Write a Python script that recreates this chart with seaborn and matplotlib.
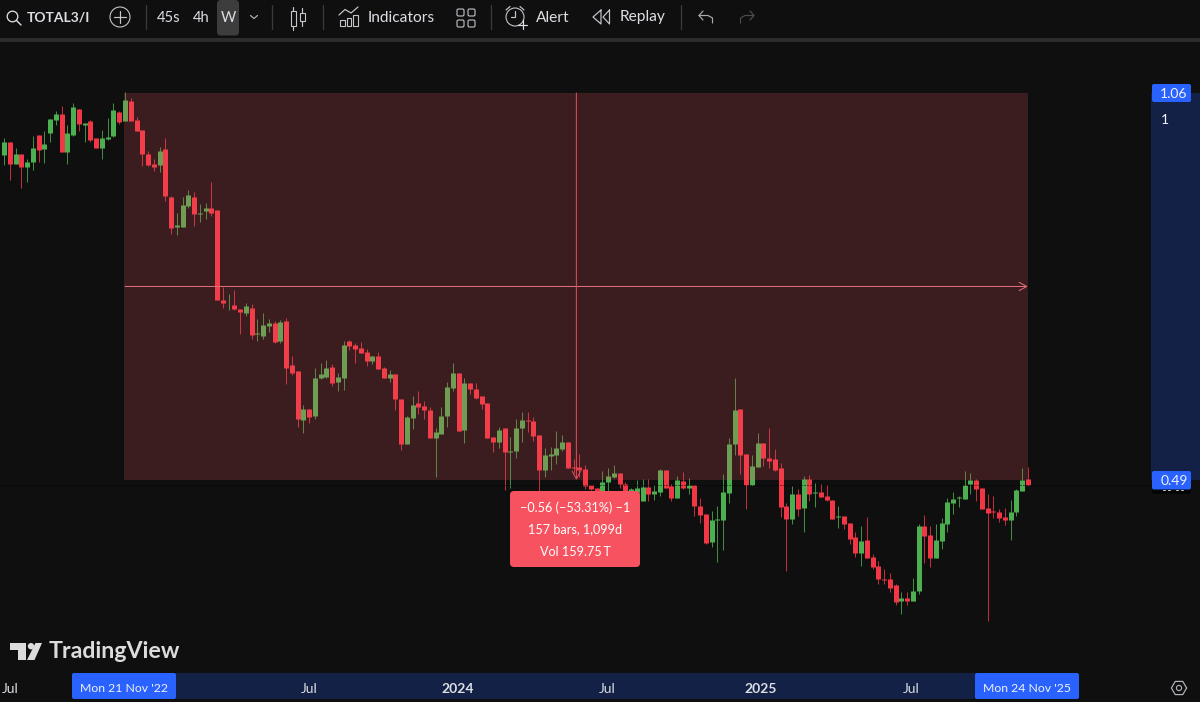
import numpy as np
import pandas as pd
import matplotlib
matplotlib.use("Agg")
import matplotlib.pyplot as plt
from matplotlib.patches import Rectangle, FancyBboxPatch, Circle, Polygon
import seaborn as sns

first_bar = -22
opens = [.900,.936,.962,.920,.939,.915,.923,.974,.948,.979,1.005,1.017,.942,.974,1.027,.995,1.002,.969,.949,.967,.972,1.021,
 1.003,1.043,1.005,.984,.938,.920,.918,.948,.862,.812,.812,.846,.862,.832,.837,.843,.840,.701,.697,.695,.689,.684,.690,.655,.653,.666,.670,.646,
 .673,.616,.609,.552,.564,.557,.600,.602,.614,.596,.600,.646,.641,.637,.632,.621,.627,.613,.600,.605,.576,.526,.554,.571,.568,.563,.533,.537,.557,.589,
 .606,.541,.594,.588,.579,.571,.534,.529,.543,.518,.519,.543,.552,.551,.536,.500,.514,.515,.521,.528,.503,.503,.501,.485,.482,.477,.488,.493,.497,.486,
 .475,.478,.470,.483,.476,.478,.500,.484,.473,.489,.482,.485,.465,.458,.433,.452,.452,.477,.526,.564,.516,.485,.503,.527,.512,.511,.502,.465,.453,.476,
 .463,.491,.477,.478,.475,.471,.455,.456,.450,.437,.424,.435,.420,.413,.402,.402,.397,.385,.387,.385,.393,.447,.439,.419,.434,.449,.468,.473,.472,.486,
 .490,.482,.463,.461,.460,.455,.452,.460,.479,.491]
highs = [.937,.969,.962,.949,.939,.930,.972,.974,.983,1.006,1.023,1.033,.994,1.040,1.027,.999,1.005,.969,.985,1.008,1.040,1.023,
 1.062,1.049,1.011,.984,.945,.930,.951,.969,.864,.834,.861,.874,.870,.850,.851,.888,.840,.720,.710,.715,.689,.698,.696,.675,.684,.676,.673,.674,
 .677,.628,.609,.569,.564,.613,.619,.622,.617,.607,.647,.648,.644,.645,.636,.628,.632,.614,.610,.605,.576,.557,.579,.585,.574,.567,.543,.567,.596,.619,
 .606,.600,.594,.595,.579,.571,.534,.545,.543,.534,.553,.561,.561,.556,.536,.522,.523,.540,.536,.528,.511,.516,.505,.485,.482,.499,.502,.505,.497,.488,
 .482,.490,.491,.491,.485,.501,.500,.486,.494,.498,.492,.485,.473,.458,.461,.465,.496,.533,.600,.564,.516,.515,.538,.527,.543,.521,.507,.468,.484,.481,
 .494,.495,.487,.486,.485,.471,.465,.456,.450,.442,.447,.455,.423,.417,.410,.407,.398,.392,.392,.403,.449,.457,.447,.449,.454,.473,.478,.475,.499,.497,
 .491,.482,.476,.475,.462,.463,.471,.481,.502,.503]
lows = [.900,.918,.891,.920,.877,.888,.909,.924,.921,.962,.995,.942,.920,.973,.983,.962,.961,.949,.930,.966,.970,.997,
 1.003,1.002,.982,.917,.916,.907,.906,.855,.800,.798,.811,.842,.813,.820,.825,.830,.702,.691,.688,.688,.655,.679,.649,.646,.649,.658,.644,.644,
 .593,.604,.545,.538,.549,.553,.599,.601,.591,.585,.586,.635,.619,.631,.615,.617,.611,.600,.596,.563,.520,.526,.542,.559,.553,.533,.493,.537,.545,.585,
 .540,.527,.582,.576,.564,.533,.518,.522,.480,.482,.512,.529,.539,.530,.478,.493,.500,.506,.519,.502,.497,.493,.481,.480,.474,.472,.476,.492,.482,.472,
 .470,.473,.470,.470,.471,.475,.482,.470,.473,.481,.476,.456,.450,.431,.429,.416,.426,.468,.515,.496,.462,.485,.503,.504,.502,.499,.455,.409,.449,.456,
 .442,.470,.464,.474,.470,.453,.445,.444,.431,.420,.413,.419,.410,.398,.398,.392,.382,.375,.382,.385,.390,.415,.412,.419,.427,.442,.458,.464,.472,.476,
 .470,.462,.370,.454,.451,.448,.435,.456,.479,.485]
closes = [.937,.962,.920,.939,.915,.924,.950,.947,.957,1.006,1.017,.942,.978,1.030,.996,.999,.966,.949,.969,.970,1.025,1.000,
 1.045,1.003,.982,.938,.918,.915,.945,.863,.810,.815,.847,.865,.832,.835,.843,.835,.702,.697,.698,.689,.685,.693,.654,.657,.667,.670,.645,.672,
 .613,.606,.553,.564,.556,.600,.605,.613,.595,.602,.641,.640,.636,.631,.621,.627,.611,.600,.605,.576,.526,.555,.569,.567,.563,.533,.539,.557,.590,.606,
 .540,.594,.587,.577,.570,.533,.529,.541,.518,.519,.543,.552,.551,.535,.500,.515,.516,.522,.528,.502,.502,.500,.484,.481,.478,.488,.494,.497,.486,.478,
 .481,.482,.483,.476,.479,.500,.482,.473,.490,.482,.485,.465,.457,.432,.452,.453,.478,.526,.563,.515,.485,.504,.527,.512,.509,.500,.464,.453,.476,.462,
 .491,.476,.478,.474,.471,.453,.456,.449,.436,.424,.434,.419,.412,.402,.401,.395,.384,.387,.385,.393,.447,.438,.419,.435,.450,.469,.472,.474,.485,.490,
 .481,.462,.459,.460,.454,.452,.460,.480,.490,.485]

measure_start_bar, measure_end_bar = 0, 157
measure_high, measure_low, last_close = 1.06, 0.49, 0.485
tick_bars = [-20, 32, 57.9, 83.8, 110.6, 136.7]
tick_labels = ["Jul", "Jul", "2024", "Jul", "2025", "Jul"]
tick_bold = ["2024", "2025"]
tooltip_lines = ["\u22120.56 (\u221253.31%) \u22121", "157 bars, 1,099d", "Vol 159.75\u2009T"]

BG, RED, GREEN, BLUE, NAVY, TXT = "#0f0f0f", "#f23645", "#4caf50", "#2962ff", "#132146", "#dcdee4"
PX = 0.72

sns.set_theme(style="dark", rc={"axes.facecolor": BG, "figure.facecolor": BG})
plt.rcParams["font.family"] = ["Lato", "DejaVu Sans"]

n = len(opens)
bars = np.arange(first_bar, first_bar + n)
direction = np.where(np.array(closes) < np.array(opens), "down", "up")
palette = {"down": RED, "up": GREEN}
wicks = pd.DataFrame({"bar": np.repeat(bars, 2), "price": np.ravel(np.column_stack([lows, highs])),
                      "dir": np.repeat(direction, 2)})
bodies = pd.DataFrame({"bar": np.repeat(bars, 2), "price": np.ravel(np.column_stack([opens, closes])),
                       "dir": np.repeat(direction, 2)})

fig = plt.figure(figsize=(12, 7.02), dpi=100)
ax = fig.add_axes([0, 0, 1, 1])
ax.set_yscale("log")
sns.lineplot(data=wicks, x="bar", y="price", units="bar", hue="dir", palette=palette, estimator=None, sort=False,
             legend=False, linewidth=1.0 * PX, solid_capstyle="butt", alpha=0.8, ax=ax, zorder=2)
sns.lineplot(data=bodies, x="bar", y="price", units="bar", hue="dir", palette=palette, estimator=None, sort=False,
             legend=False, linewidth=5.0 * PX, solid_capstyle="butt", ax=ax, zorder=2.1)
ax.set_xlim(-125 / 5.75, (1200 - 125) / 5.75)
ax.set_ylim(0.3147, 1.276)
ax.set_xlabel(""); ax.set_ylabel("")
ax.set_yticks([]); ax.minorticks_off()
ax.yaxis.set_minor_locator(matplotlib.ticker.NullLocator())
ax.set_axisbelow(False)
ax.set_xticks(tick_bars, tick_labels)
ax.tick_params(axis="x", length=0, pad=-14, labelsize=10, colors=TXT)
for lab in ax.get_xticklabels():
    if lab.get_text() in tick_bold:
        lab.set_fontweight("bold")
for s in ax.spines.values():
    s.set_visible(False)
ax.grid(False)

# measure box, overlaid on the candles
ax.add_patch(Rectangle((measure_start_bar - 0.15, measure_low), measure_end_bar - measure_start_bar + 0.15,
                       measure_high - measure_low, facecolor="#f25a60", alpha=0.2, edgecolor="none", zorder=2.2))
mid_price = np.sqrt(measure_high * measure_low)
mid_bar = (measure_start_bar + measure_end_bar) / 2
ax.annotate("", xy=(measure_end_bar, mid_price), xytext=(measure_start_bar, mid_price), zorder=2.4,
            arrowprops=dict(arrowstyle="->,head_length=0.55,head_width=0.3", color="#e0707a", lw=1 * PX, shrinkA=0, shrinkB=0, mutation_scale=10))
ax.annotate("", xy=(mid_bar, measure_low), xytext=(mid_bar, measure_high), zorder=2.4,
            arrowprops=dict(arrowstyle="->,head_length=0.55,head_width=0.3", color="#e0505e", lw=1 * PX, shrinkA=0, shrinkB=0, mutation_scale=10))
ax.axhline(last_close, xmin=0, xmax=1151 / 1200, color="black", lw=1 * PX, ls=(0, (1, 2)), zorder=2.3)
# price and time scale highlights
ax.axhspan(measure_low, measure_high, xmin=1151 / 1200, xmax=1, color=NAVY, lw=0, zorder=1)
ax.axvspan(measure_start_bar - 0.15, measure_end_bar, ymin=(702 - 699) / 702, ymax=(702 - 673) / 702, color=NAVY, lw=0, zorder=1)

# interface overlay in pixel coordinates
ui = fig.add_axes([0, 0, 1, 1], facecolor="none")
ui.set_xlim(0, 1200); ui.set_ylim(702, 0); ui.axis("off")


def box(x0, y0, x1, y1, color, r=2, z=5):
    ui.add_patch(FancyBboxPatch((x0 + r, y0 + r), x1 - x0 - 2 * r, y1 - y0 - 2 * r,
                                boxstyle=f"round,pad={r},rounding_size={r}", fc=color, ec="none", zorder=z))


def stroke(xs, ys, color="#c4c6cc", lw=1.2, z=7):
    ui.plot(xs, ys, color=color, lw=lw * PX, zorder=z, solid_capstyle="round")


def label(x, y, s, size=11.2, color=TXT, ha="center", weight="normal", z=8):
    ui.text(x, y, s, fontsize=size, color=color, ha=ha, va="center", fontweight=weight, zorder=z)


# toolbar
ui.add_patch(Rectangle((0, 0), 1200, 38, fc=BG, ec="none", zorder=4))
ui.add_patch(Rectangle((0, 38), 1200, 4, fc="#2c2c2c", ec="none", zorder=4))
ui.add_patch(Circle((12.5, 16.5), 5.3, fc="none", ec=TXT, lw=1.3 * PX, zorder=7))
stroke([16.5, 21], [20.5, 25], TXT, 1.4)
label(27, 17.5, "TOTAL3/I", 10.0, ha="left", weight="bold")
ui.add_patch(Circle((120, 17), 10, fc="none", ec="#c4c6cc", lw=1.1 * PX, zorder=7))
stroke([114, 126], [17, 17]); stroke([120, 120], [11, 23])
for sx in (146, 272, 323, 491, 681):
    ui.plot([sx, sx], [5, 29], color="#3a3a3a", lw=1.3 * PX, zorder=7)
label(168.5, 17.5, "45s", 10.6)
label(201, 17.5, "4h", 10.6)
box(217, 0, 239, 35.5, "#3d3d3d", r=4)
label(228, 17.5, "W", 10.6)
stroke([250.5, 254, 257.5], [15.5, 18.5, 15.5], "#b0b2b8")
# candle icon
ui.add_patch(Rectangle((290.5, 11), 5, 15, fc="none", ec="#c4c6cc", lw=1.1 * PX, zorder=7))
stroke([293, 293], [7, 11]); stroke([293, 293], [26, 30])
ui.add_patch(Rectangle((300, 13), 4.5, 8, fc="none", ec="#c4c6cc", lw=1.1 * PX, zorder=7))
stroke([302.2, 302.2], [8, 13]); stroke([302.2, 302.2], [21, 26])
# indicators icon
stroke([339, 345, 351, 358], [15, 9.5, 13, 7])
for bx, by in ((340, 20), (346.5, 18), (353, 15)):
    ui.add_patch(Rectangle((bx, by), 4.5, 26 - by, fc="none", ec="#c4c6cc", lw=1.1 * PX, zorder=7))
label(368, 17.5, "Indicators", ha="left")
# layout icon
for gx in (457, 468):
    for gy in (9, 20):
        ui.add_patch(FancyBboxPatch((gx + 1.5, gy + 1.5), 4, 4, boxstyle="round,pad=1.5,rounding_size=1.5",
                                    fc="none", ec="#c4c6cc", lw=1.1 * PX, zorder=7))
# alert icon
ui.add_patch(Circle((515, 17), 9, fc="none", ec="#c4c6cc", lw=1.1 * PX, zorder=7))
stroke([515, 515, 511], [11, 17, 17]); stroke([506, 510], [10, 6.5]); stroke([520, 524], [6.5, 10])
ui.add_patch(Rectangle((517, 20), 11, 10, fc=BG, ec="none", zorder=6.5))
stroke([522.5, 522.5], [20, 29], TXT); stroke([518, 527], [24.5, 24.5], TXT)
label(536, 17.5, "Alert", ha="left")
# replay icon
stroke([601, 593, 601, 601], [10, 17, 24, 10]); stroke([609.5, 603, 609.5, 609.5], [10, 17, 24, 10])
label(620, 17.5, "Replay", ha="left")
# undo / redo
stroke([703, 699, 703], [11, 15.5, 20], "#a8aab0"); stroke([699, 708, 712.5, 712.5], [15.5, 15.5, 18, 23], "#a8aab0")
stroke([750, 754, 750], [11, 15.5, 20], "#4c4c4c"); stroke([754, 745, 740.5, 740.5], [15.5, 15.5, 18, 23], "#4c4c4c")

# price scale labels
box(1152, 84, 1191, 102, BLUE)
label(1174, 93.5, "1.06", 10, color="#f0f3fa")
label(1161, 120.5, "1", 10, color="#f0f3fa", ha="left")
box(1152, 480, 1191, 494, "#050505", z=4.8)
for tick_x in (1164, 1169, 1177, 1182):
    ui.plot([tick_x - 1, tick_x + 1], [490.3, 490.3], color="#c8c8c8", lw=1 * PX, zorder=4.9)
box(1152, 471, 1191, 489.5, BLUE)
label(1174, 481, "0.49", 10, color="#f0f3fa")

# time scale labels
box(72, 673, 176, 699, BLUE)
label(124, 689, "Mon 21 Nov '22", 8.8, color="#f0f3fa")
box(975, 673, 1079, 699, BLUE)
label(1027, 689, "Mon 24 Nov '25", 8.8, color="#f0f3fa")
# settings hexagon
hx = 1179 + 7.6 * np.cos(np.radians(np.arange(0, 361, 60)))
hy = 688 + 7.6 * np.sin(np.radians(np.arange(0, 361, 60)))
stroke(hx, hy, "#b2b5be", 1.2)
ui.add_patch(Circle((1179, 688), 2.6, fc="none", ec="#b2b5be", lw=1.1 * PX, zorder=7))

# tooltip
box(510, 491, 640, 567, "#f7525f", r=4, z=6)
for yy, line in zip((507.5, 529.5, 551.5), tooltip_lines):
    label(575, yy, line, 9.1, color="#ffffff")

# logo
logo = "#dcdcdc"
ui.add_patch(Polygon([(9.5, 643), (26, 643), (26, 660), (17.5, 660), (17.5, 649.5), (9.5, 649.5)], fc=logo, ec="none", zorder=7))
ui.add_patch(Circle((31, 646.2), 3.2, fc=logo, ec="none", zorder=7))
ui.add_patch(Polygon([(35.5, 643), (42, 643), (34.5, 660), (27, 660)], fc=logo, ec="none", zorder=7))
label(49, 652, "TradingView", 16.7, color=logo, ha="left", weight="bold")

fig.savefig("out.png", dpi=100, facecolor=BG)
